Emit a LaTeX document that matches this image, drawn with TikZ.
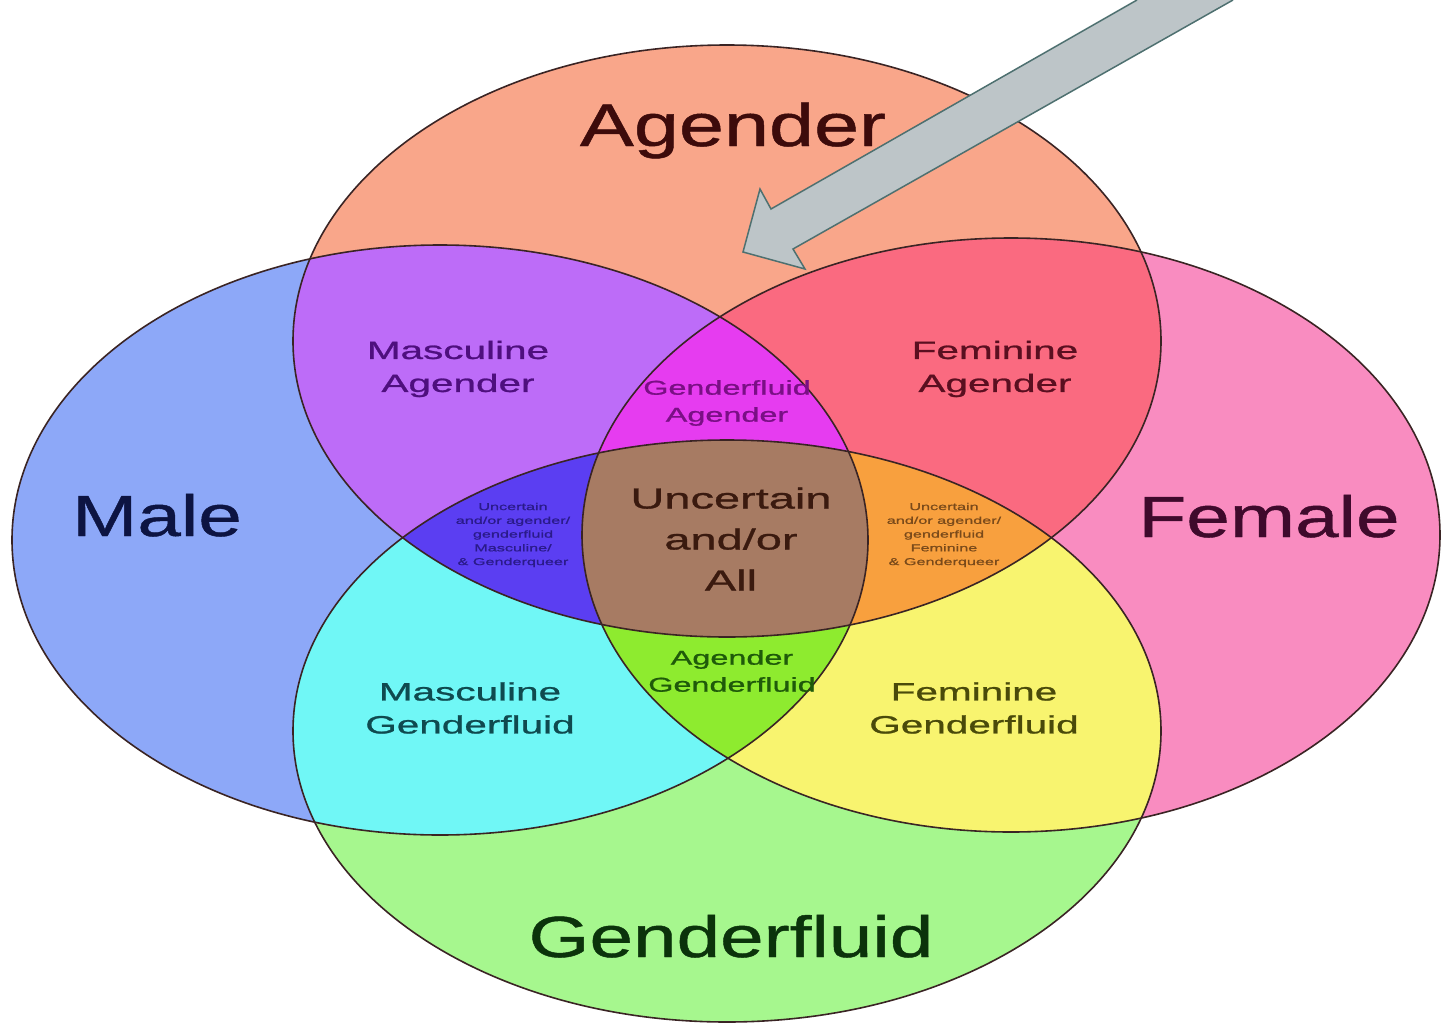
\documentclass[tikz,border=0pt]{standalone}
\usepackage{fontspec}
\setmainfont{Liberation Sans}
\newfontfamily\widesans[FakeStretch=1.35,FakeBold=0.8]{Liberation Sans}
\newfontfamily\widersans[FakeStretch=1.62,FakeBold=1]{Liberation Sans}
\usepackage{xcolor}
\usepackage{tikz}
\usetikzlibrary{calc}

\definecolor{agenderbg}{HTML}{F9A68A}
\definecolor{malebg}{HTML}{8DA8F8}
\definecolor{femalebg}{HTML}{F98CC0}
\definecolor{fluidbg}{HTML}{A6F78E}
\definecolor{mascagender}{HTML}{BD6CF8}
\definecolor{femagender}{HTML}{FA6A80}
\definecolor{mascfluid}{HTML}{70F7F6}
\definecolor{femfluid}{HTML}{F8F46F}
\definecolor{fluidagender}{HTML}{E63CF0}
\definecolor{agenderfluid}{HTML}{8EEB2F}
\definecolor{mascuncertain}{HTML}{5B3EF2}
\definecolor{femuncertain}{HTML}{F8A03E}
\definecolor{allbrown}{HTML}{A77B63}
\definecolor{rimcol}{HTML}{3A2424}
\definecolor{arrowgray}{HTML}{BDC5C8}
\definecolor{arrowedge}{HTML}{4E7070}

\definecolor{agendertxt}{HTML}{3D0B0B}
\definecolor{maletxt}{HTML}{0D1442}
\definecolor{femaletxt}{HTML}{3F0A2C}
\definecolor{fluidtxt}{HTML}{0B330B}
\definecolor{mascagendertxt}{HTML}{4E0F7E}
\definecolor{femagendertxt}{HTML}{5A0F20}
\definecolor{mascfluidtxt}{HTML}{0F4A4F}
\definecolor{femfluidtxt}{HTML}{4A4A0A}
\definecolor{fluidagendertxt}{HTML}{7A0F85}
\definecolor{agenderfluidtxt}{HTML}{1F5A0A}
\definecolor{uncertaintxt}{HTML}{3A1A0F}
\definecolor{mascuncertaintxt}{HTML}{2A1A8A}
\definecolor{femuncertaintxt}{HTML}{7A4A1A}

\newcommand{\agenderE}{(A) ellipse [x radius=434, y radius=296]}
\newcommand{\fluidE}{(G) ellipse [x radius=434, y radius=291]}
\newcommand{\maleE}{(M) ellipse [x radius=428, y radius=295]}
\newcommand{\femaleE}{(F) ellipse [x radius=429, y radius=297]}

\begin{document}
\begin{tikzpicture}[x=1pt, y=-1pt,
  rim/.style={draw=rimcol, line width=1.6pt},
  biglabel/.style={font=\widesans\fontsize{58}{64}\selectfont, anchor=base, inner sep=0pt},
  midlabel/.style={font=\widersans\fontsize{25}{33}\selectfont, align=center, inner sep=0pt},
  innerlabel/.style={font=\widersans\fontsize{20}{27}\selectfont, align=center, inner sep=0pt},
  tinylabel/.style={font=\widersans\fontsize{10}{13.75}\selectfont, align=center, inner sep=0pt}]
\useasboundingbox (0,0) rectangle (1441,1031);
\coordinate (A) at (727,341);
\coordinate (G) at (727,731);
\coordinate (M) at (440,540);
\coordinate (F) at (1011,535);

\fill[agenderbg] \agenderE;
\fill[malebg] \maleE;
\fill[femalebg] \femaleE;
\fill[fluidbg] \fluidE;

\begin{scope} \clip \agenderE; \fill[mascagender] \maleE; \end{scope}
\begin{scope} \clip \agenderE; \fill[femagender] \femaleE; \end{scope}
\begin{scope} \clip \fluidE; \fill[mascfluid] \maleE; \end{scope}
\begin{scope} \clip \fluidE; \fill[femfluid] \femaleE; \end{scope}

\begin{scope} \clip \agenderE; \clip \maleE; \fill[fluidagender] \femaleE; \end{scope}
\begin{scope} \clip \fluidE; \clip \maleE; \fill[agenderfluid] \femaleE; \end{scope}
\begin{scope} \clip \agenderE; \clip \fluidE; \fill[mascuncertain] \maleE; \end{scope}
\begin{scope} \clip \agenderE; \clip \fluidE; \fill[femuncertain] \femaleE; \end{scope}
\begin{scope} \clip \agenderE; \clip \fluidE; \clip \maleE; \fill[allbrown] \femaleE; \end{scope}

\draw[rim] \agenderE;
\draw[rim] \maleE;
\draw[rim] \femaleE;
\draw[rim] \fluidE;

\node[biglabel, font=\widesans\fontsize{60}{66}\selectfont, text=agendertxt] (agender) at (733,146) {Agender};
\node[biglabel, text=maletxt] (male) at (157,536) {Male};
\node[biglabel, text=femaletxt] (female) at (1269,537) {Female};
\node[biglabel, text=fluidtxt] (genderfluid) at (731,957) {Genderfluid};

\node[midlabel, text=mascagendertxt] (mascagender) at (458,369) {Masculine\\Agender};
\node[midlabel, text=femagendertxt] (femagender) at (995,369) {Feminine\\Agender};
\node[midlabel, text=mascfluidtxt] (mascfluid) at (470,708) {Masculine\\Genderfluid};
\node[midlabel, text=femfluidtxt] (femfluid) at (974,708) {Feminine\\Genderfluid};

\node[innerlabel, text=fluidagendertxt] (fluidagender) at (727,403) {Genderfluid\\Agender};
\node[innerlabel, text=agenderfluidtxt] (agenderfluid) at (732,671) {Agender\\Genderfluid};
\node[align=center, inner sep=0pt, font=\widersans\fontsize{29}{41}\selectfont, text=uncertaintxt] (uncertain) at (731,539) {Uncertain\\and/or\\All};

\node[tinylabel, text=mascuncertaintxt] (mascuncertain) at (513,535) {Uncertain\\and/or agender/\\genderfluid\\Masculine/\\\& Genderqueer};
\node[tinylabel, text=femuncertaintxt] (femuncertain) at (944,535) {Uncertain\\and/or agender/\\genderfluid\\Feminine\\\& Genderqueer};

\coordinate (tail1) at (1137,0);
\coordinate (neck1) at (771,209);
\coordinate (barb1) at (760,189);
\coordinate (tip) at (743,252);
\coordinate (barb2) at (805,269);
\coordinate (neck2) at (793,249);
\coordinate (tail2) at (1233,0);
\fill[arrowgray] (tail1) -- (neck1) -- (barb1) -- (tip) -- (barb2) -- (neck2) -- (tail2) -- cycle;
\draw[arrowedge, line width=1.5pt, line join=miter] (tail1) -- (neck1) -- (barb1) -- (tip) -- (barb2) -- (neck2) -- (tail2);
\end{tikzpicture}
\end{document}
